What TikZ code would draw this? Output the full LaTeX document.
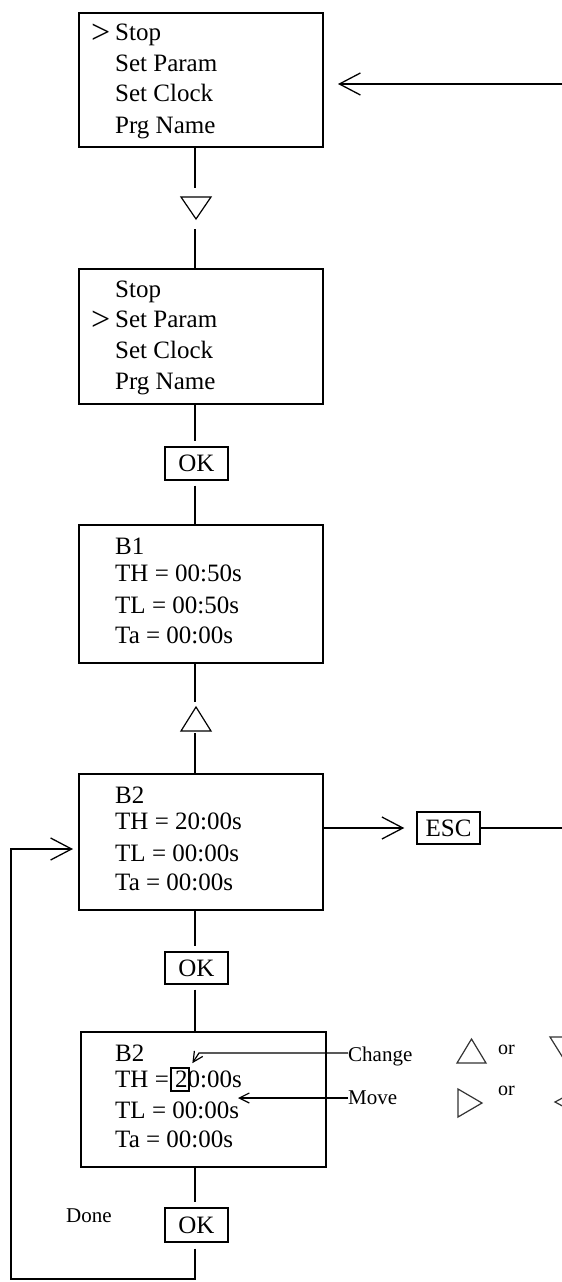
\documentclass[tikz,border=0pt]{standalone}
\usepackage{fontspec}
\setmainfont{Liberation Serif}
\usetikzlibrary{arrows.meta,calc}
\begin{document}
\begin{tikzpicture}[x=1pt,y=-1pt,
  screen/.style={draw, line width=1.4pt, minimum width=244pt, inner sep=0pt},
  btn/.style={draw, line width=1.4pt, minimum width=63pt, minimum height=33pt, inner sep=0pt, font=\fontsize{25}{25}\selectfont},
  txt/.style={anchor=base west, inner sep=0pt, font=\fontsize{25}{25}\selectfont},
  cur/.style={anchor=base west, inner sep=0pt, font=\fontsize{34}{34}\selectfont},
  lbl/.style={anchor=base west, inner sep=0pt, font=\fontsize{21}{21}\selectfont},
  gap/.style={minimum width=30pt, inner sep=0pt},
  conn/.style={line width=1.3pt},
  key/.style={line width=1.2pt, line join=miter},
  bigarrow/.style={line width=1.3pt, -{Straight Barb[length=21pt,width=22pt]}},
  smallarrow/.style={line width=1.2pt, -{Straight Barb[length=10pt,width=10pt]}}
]
\clip (0,0) rectangle (562,1282);
\fill[white] (0,0) rectangle (562,1282);

% screens
\node[screen, minimum height=134pt] (s1) at (201,80) {};
\node[screen, minimum height=135pt] (s2) at (201,336.5) {};
\node[screen, minimum height=138pt] (s3) at (201,594) {};
\node[screen, minimum height=136pt] (s4) at (201,842) {};
\node[screen, minimum width=245pt, minimum height=135pt] (s5) at (203.5,1099.5) {};

% screen 1 text
\node[cur] at (91,43) {>};
\node[txt] at (115,40) {Stop};
\node[txt] at (115,71) {Set Param};
\node[txt] at (115,101) {Set Clock};
\node[txt] at (115,133) {Prg Name};

% screen 2 text
\node[txt] at (115,297) {Stop};
\node[cur] at (91,330) {>};
\node[txt] at (115,327) {Set Param};
\node[txt] at (115,358) {Set Clock};
\node[txt] at (115,389) {Prg Name};

% screen 3 text
\node[txt] at (115,554) {B1};
\node[txt] at (115,581) {TH = 00:50s};
\node[txt] at (115,613) {TL = 00:50s};
\node[txt] at (115,643) {Ta = 00:00s};

% screen 4 text
\node[txt] at (115,803) {B2};
\node[txt] at (115,829) {TH = 20:00s};
\node[txt] at (115,861) {TL = 00:00s};
\node[txt] at (115,890) {Ta = 00:00s};

% screen 5 text
\node[txt] at (115,1061) {B2};
\node[txt] at (115,1087) {TH = 20:00s};
\node[txt] at (115,1118) {TL = 00:00s};
\node[txt] at (115,1147) {Ta = 00:00s};
\node[draw, line width=1.3pt, minimum width=18pt, minimum height=23pt, inner sep=0pt] (dg) at (180,1079.5) {};

% buttons
\node[btn] (ok1) at (196.5,463.5) {OK};
\node[btn, minimum height=32pt] (ok2) at (196.5,968) {OK};
\node[btn, minimum height=34pt] (ok3) at (196.5,1225) {OK};
\node[btn, minimum height=32pt] (esc) at (448.5,828) {ESC};

% key gaps
\node[gap, minimum height=41pt] (dn) at (195,208.5) {};
\draw[key] (181,197) -- (211,197) -- (196,219) -- cycle;
\node[gap, minimum height=31pt] (up) at (195,717.5) {};
\draw[key] (181,731) -- (211,731) -- (196,707) -- cycle;

% vertical connectors
\coordinate (cx) at (195,0);
\draw[conn] (s1.south -| cx) -- (dn.north);
\draw[conn] (dn.south) -- (s2.north -| cx);
\draw[conn, shorten >=5pt] (s2.south -| cx) -- (ok1.north -| cx);
\draw[conn, shorten <=5pt] (ok1.south -| cx) -- (s3.north -| cx);
\draw[conn] (s3.south -| cx) -- (up.north);
\draw[conn] (up.south) -- (s4.north -| cx);
\draw[conn, shorten >=5pt] (s4.south -| cx) -- (ok2.north -| cx);
\draw[conn, shorten <=5pt] (ok2.south -| cx) -- (s5.north -| cx);
\draw[conn, shorten >=5pt] (s5.south -| cx) -- (ok3.north -| cx);

% loop back
\coordinate (lc) at (11,1279);
\coordinate (in4) at (79,849);
\draw[bigarrow, shorten <=6pt, shorten >=6pt] (ok3.south -| cx) |- (lc) |- (in4);

% escape path
\coordinate (out4) at (323,828);
\coordinate (re) at (575,828);
\coordinate (rt) at (575,84);
\coordinate (in1) at (323,84);
\draw[bigarrow, shorten >=12pt] (out4) -- (esc.west);
\draw[bigarrow, shorten >=15pt] (esc.east) -- (re) -- (rt) -- (in1);

% change / move annotations
\node[lbl] (chg) at (348,1061) {Change};
\node[lbl] (mv) at (348,1104) {Move};
\draw[smallarrow, shorten >=5pt] (chg.west |- 0,1053) -- (199,1053) -- (dg.north east);
\draw[smallarrow] (mv.west |- 0,1098) -- (238,1098);

% legend keys
\draw[key, black!80] (457,1063) -- (486,1063) -- (471.5,1039) -- cycle;
\node[lbl, font=\fontsize{20}{20}\selectfont] at (498,1054) {or};
\draw[key, black!80] (550,1037) -- (580,1037) -- (565,1061) -- cycle;
\draw[key, black!80] (458,1089) -- (458,1117) -- (482,1103) -- cycle;
\node[lbl, font=\fontsize{20}{20}\selectfont] at (498,1095) {or};
\draw[key, black!80] (555,1102) -- (581,1088) -- (581,1116) -- cycle;

\node[lbl] at (66,1222) {Done};
\end{tikzpicture}
\end{document}
